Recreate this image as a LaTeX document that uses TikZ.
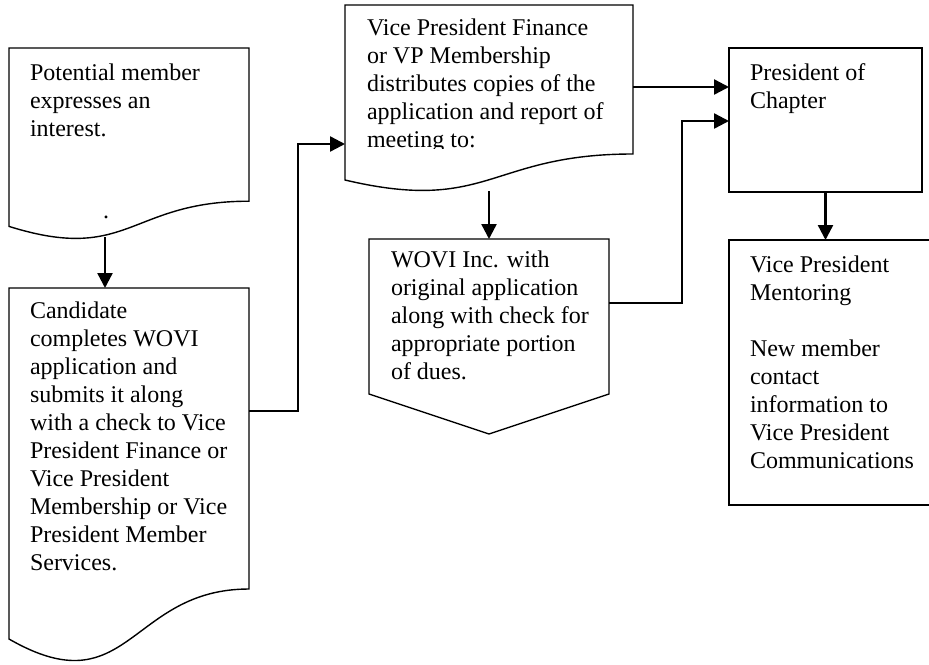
\documentclass[tikz,border=0pt]{standalone}
\usepackage{fontspec}
\setmainfont{Liberation Serif}
\usetikzlibrary{arrows.meta}
\tikzset{
  frame/.style={draw=none, inner sep=0pt, outer sep=0pt, anchor=north west},
  shapeline/.style={draw=black, line width=1.4pt, line join=miter},
  conn/.style={draw=black, line width=2.4pt, -{Triangle[length=15pt,width=15pt]}},
  label/.style={inner sep=0pt, outer sep=0pt, anchor=north west, align=left,
    font=\fontsize{24}{28}\selectfont}
}
\begin{document}
\begin{tikzpicture}[x=1pt,y=-1pt]
\useasboundingbox[fill=white] (0,0) rectangle (929,664);

% --- shape outlines ---
% Potential member (document)
\draw[shapeline] (9,48) -- (249,48) -- (249,201.2)
  .. controls (129,201.2) and (129,264) .. (9,226.4) -- cycle;
\node[frame, minimum width=240pt, minimum height=191pt] (interest) at (9,48) {};
% Candidate (document)
\draw[shapeline] (9,288) -- (249,288) -- (249,589)
  .. controls (129,589) and (129,708) .. (9,639) -- cycle;
\node[frame, minimum width=240pt, minimum height=375pt] (candidate) at (9,288) {};
% Vice President Finance (document)
\draw[shapeline] (345,5) -- (633,5) -- (633,154)
  .. controls (489,154) and (489,214) .. (345,180) -- cycle;
\node[frame, minimum width=288pt, minimum height=186pt] (distribute) at (345,5) {};
% WOVI Inc. (off-page connector)
\draw[shapeline] (369,239) -- (609,239) -- (609,394) -- (489,434) -- (369,394) -- cycle;
\node[frame, minimum width=240pt, minimum height=195pt] (wovi) at (369,239) {};
% President of Chapter
\node[frame, draw=black, line width=1.4pt, minimum width=193pt, minimum height=144pt] (president) at (729,48) {};
% Vice President Mentoring
\node[frame, draw=black, line width=1.8pt, minimum width=202pt, minimum height=265pt] (mentoring) at (729,240) {};

% --- texts ---
\node[label] (t-interest) at (30,60.4) {\strut Potential member\\expresses an\\interest.};
\node[inner sep=0pt, anchor=base, font=\fontsize{24}{28}\selectfont] (t-dot) at (106,218) {.};
\node[label] (t-candidate) at (30,298.4) {\strut Candidate\\completes WOVI\\application and\\submits it along\\with a check to Vice\\President Finance or\\Vice President\\Membership or Vice\\President Member\\Services.};
\begin{scope}
  \clip (345,5) rectangle (633,148.5);
  \node[label] (t-distribute) at (367,15.4) {\strut Vice President Finance\\or VP Membership\\distributes copies of the\\application and report of\\meeting to:};
\end{scope}
\node[label] (t-wovi) at (391,247.4) {\strut WOVI Inc. with\\original application\\along with check for\\appropriate portion\\of dues.};
\node[label] (t-president) at (750,60.4) {\strut President of\\Chapter};
\node[label] (t-mentoring) at (750,252.4) {\strut Vice President\\Mentoring\\ \strut\\New member\\contact\\information to\\Vice President\\Communications};

% --- connectors ---
\draw[conn] ([xshift=-24pt,yshift=2pt]interest.south) -- ([xshift=-24pt]candidate.north);
\draw[conn] ([yshift=-123pt]candidate.north east) -- ++(49,0) |- ([yshift=-139pt]distribute.north west);
\draw[conn] (distribute.south) -- (distribute.south |- wovi.north);
\draw[conn] ([yshift=-82pt]distribute.north east) -- ([yshift=-39pt]president.north west);
\draw[conn] ([yshift=-64pt]wovi.north east) -- ++(73,0) |- ([yshift=-73pt]president.north west);
\draw[conn] (president.south) -- (president.south |- mentoring.north);
\end{tikzpicture}
\end{document}
